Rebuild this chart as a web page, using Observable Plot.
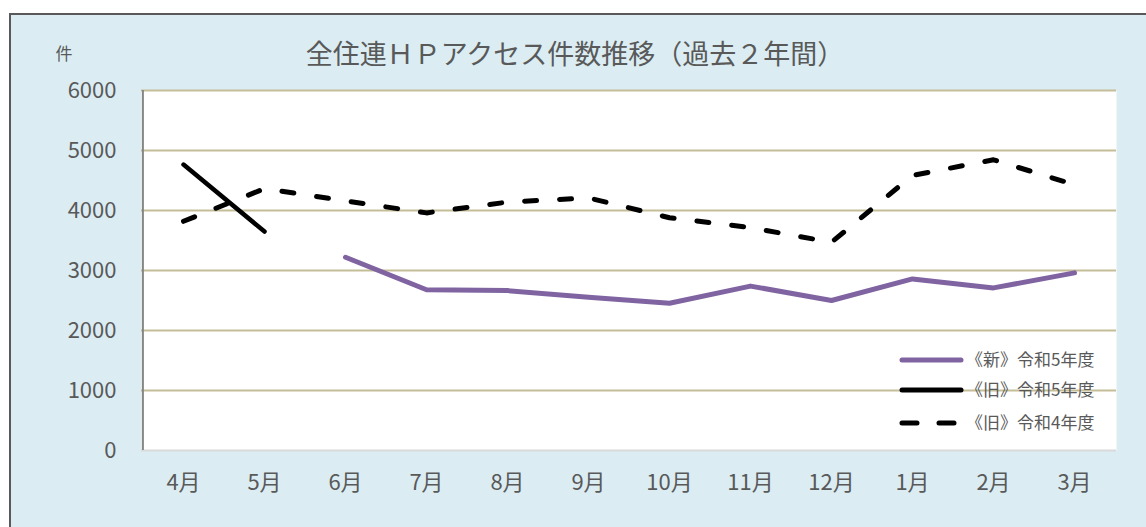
<!DOCTYPE html>
<html>
<head>
<meta charset="utf-8">
<script src="https://cdn.jsdelivr.net/npm/d3@7"></script>
<script src="https://cdn.jsdelivr.net/npm/@observablehq/plot@0.6"></script>
<style>
  html, body { margin: 0; padding: 0; background: #ffffff; }
  #wrap { position: relative; width: 1146px; height: 527px; overflow: hidden; }
  #panel { position: absolute; left: 9px; top: 13px; width: 1150px; height: 530px;
           background: #dbedf3; border: 2px solid #595959; box-sizing: border-box; }
  #chart { position: absolute; left: 0; top: 0; }
  svg { font-family: "Noto Sans CJK JP", "Noto Sans", sans-serif; }
</style>
</head>
<body>
<div id="wrap"><div id="panel"></div><div id="chart"></div></div>
<script>
const months = ["4月","5月","6月","7月","8月","9月","10月","11月","12月","1月","2月","3月"];
const newR5 = [null, null, 3220, 2680, 2665, 2555, 2455, 2740, 2500, 2860, 2710, 2960];
const oldR5 = [4765, 3650, null, null, null, null, null, null, null, null, null, null];
const oldR4 = [3820, 4365, 4160, 3960, 4140, 4210, 3880, 3715, 3470, 4585, 4845, 4430];
const yTicks = [0, 1000, 2000, 3000, 4000, 5000, 6000];
const seriesNames = ["《新》令和5年度", "《旧》令和5年度", "《旧》令和4年度"];
const titleText = "全住連ＨＰアクセス件数推移（過去２年間）";
const unitText = "件";

const toRows = (vals) => months.map((m, i) => ({month: m, value: vals[i]})).filter(d => d.value != null);
const rowsNew = toRows(newR5), rowsOld5 = toRows(oldR5), rowsOld4 = toRows(oldR4);

const textColor = "#595959";
const chart = Plot.plot({
  width: 1146, height: 527,
  marginLeft: 141, marginRight: 30, marginTop: 90, marginBottom: 77,
  style: {background: "transparent", color: textColor, fontSize: "22px"},
  x: {type: "point", domain: months, padding: 0.5, label: null},
  y: {domain: [0, 6000], ticks: yTicks, label: null},
  marks: [
    Plot.frame({fill: "white", stroke: null}),
    Plot.gridY(yTicks.filter(v => v > 0), {stroke: "#c4bd97", strokeWidth: 2, strokeOpacity: 1}),
    Plot.ruleY([0], {stroke: "#d9d9d9", strokeWidth: 2}),
    Plot.ruleX([0], {x: () => months[0], dx: -40.6, stroke: "#868686", strokeWidth: 2, y1: 0, y2: 6000}),
    Plot.axisY({ticks: yTicks, tickSize: 0, tickPadding: 25, fontSize: 22, fill: textColor, tickFormat: d => String(d)}),
    Plot.axisX({tickSize: 0, tickPadding: 24, fontSize: 22, fill: textColor}),
    Plot.line(rowsOld4, {x: "month", y: "value", stroke: "#000", strokeWidth: 5, strokeDasharray: "12 23", strokeLinecap: "round", strokeLinejoin: "round"}),
    Plot.line(rowsOld5, {x: "month", y: "value", stroke: "#000", strokeWidth: 4.5, strokeLinecap: "round"}),
    Plot.line(rowsNew, {x: "month", y: "value", stroke: "#8064a2", strokeWidth: 5, strokeLinecap: "round", strokeLinejoin: "round"}),
    Plot.text([titleText], {frameAnchor: "top", dy: -46, dx: -54, fontSize: 27, fill: textColor, text: d => d}),
    Plot.text([unitText], {frameAnchor: "top-left", dx: -86, dy: -43, fontSize: 17, fill: textColor, text: d => d})
  ]
});
document.getElementById("chart").appendChild(chart);

// legend
const svg = d3.select(chart);
const leg = svg.append("g");
const legStyles = [
  {stroke: "#8064a2", width: 5, dash: null, y: 360},
  {stroke: "#000", width: 5, dash: null, y: 390},
  {stroke: "#000", width: 5, dash: "15 22", y: 423}
];
legStyles.forEach((s, i) => {
  leg.append("line").attr("x1", 902).attr("x2", 961).attr("y1", s.y).attr("y2", s.y)
    .attr("stroke", s.stroke).attr("stroke-width", s.width).attr("stroke-linecap", "round")
    .attr("stroke-dasharray", s.dash);
  leg.append("text").attr("x", 966).attr("y", s.y).attr("dy", "0.35em")
    .attr("text-anchor", "start")
    .attr("font-size", 17).attr("fill", textColor).text(seriesNames[i]);
});
</script>
</body>
</html>
